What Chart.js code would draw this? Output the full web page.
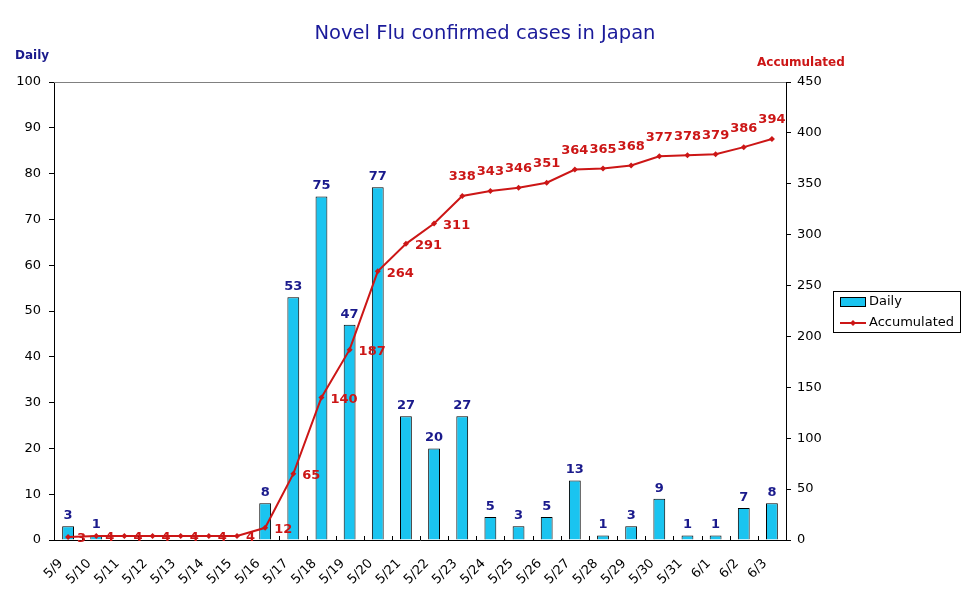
<!DOCTYPE html>
<html>
<head>
<meta charset="utf-8">
<script src="https://cdn.jsdelivr.net/npm/chart.js@4/dist/chart.umd.min.js"></script>
<style>
html,body{margin:0;padding:0;background:#fff;}
#wrap{position:relative;width:970px;height:604px;}
</style>
</head>
<body>
<div id="wrap"><canvas id="c" width="970" height="604"></canvas></div>
<script>
const categories = ["5/9","5/10","5/11","5/12","5/13","5/14","5/15","5/16","5/17","5/18","5/19","5/20","5/21","5/22","5/23","5/24","5/25","5/26","5/27","5/28","5/29","5/30","5/31","6/1","6/2","6/3"];
const daily = [3,1,0,0,0,0,0,8,53,75,47,77,27,20,27,5,3,5,13,1,3,9,1,1,7,8];
const accumulated = [3,4,4,4,4,4,4,12,65,140,187,264,291,311,338,343,346,351,364,365,368,377,378,379,386,394];
const dailyMax = 100, dailyStep = 10;
const accMax = 450, accStep = 50;
const titleText = "Novel Flu confirmed cases in Japan";
const leftAxisTitle = "Daily";
const rightAxisTitle = "Accumulated";
const seriesNames = ["Daily","Accumulated"];

const BAR = '#1AC4F0', LINE = '#CC1616', NAVY = '#1A1A8C', FONT = '"DejaVu Sans", Verdana, sans-serif';

const deco = {
  id: 'deco',
  afterDraw(chart) {
    const ctx = chart.ctx, a = chart.chartArea;
    ctx.save();
    ctx.strokeStyle = '#808080'; ctx.lineWidth = 1;
    ctx.beginPath(); ctx.moveTo(a.left, a.top + 0.5); ctx.lineTo(a.right, a.top + 0.5); ctx.stroke();
    const n = categories.length, w = (a.right - a.left) / n;
    ctx.strokeStyle = '#000';
    ctx.beginPath();
    for (let i = 1; i < n; i++) {
      const x = Math.round(a.left + i * w) + 0.5;
      ctx.moveTo(x, a.bottom); ctx.lineTo(x, a.bottom - 4);
    }
    ctx.stroke();
    ctx.fillStyle = '#1A1A9A'; ctx.font = '19.5px ' + FONT; ctx.textAlign = 'center'; ctx.textBaseline = 'middle';
    ctx.fillText(titleText, 485, 34);
    ctx.font = 'bold 12px ' + FONT;
    ctx.fillStyle = NAVY; ctx.textAlign = 'left';
    ctx.fillText(leftAxisTitle, 15, 56);
    ctx.fillStyle = LINE;
    ctx.fillText(rightAxisTitle, 757, 63);
    const mb = chart.getDatasetMeta(0), ml = chart.getDatasetMeta(1);
    ctx.font = 'bold 13px ' + FONT;
    ctx.fillStyle = NAVY; ctx.textAlign = 'center'; ctx.textBaseline = 'bottom';
    daily.forEach((v, i) => {
      if (v === 0) return;
      const b = mb.data[i];
      ctx.fillText(String(v), b.x, b.y - 4);
    });
    ctx.fillStyle = LINE;
    accumulated.forEach((v, i) => {
      const p = ml.data[i];
      ctx.textBaseline = 'middle';
      if (i <= 13) {
        ctx.textAlign = 'left';
        ctx.fillText(String(v), p.x + 9, p.y + 2);
      } else {
        ctx.textAlign = 'center';
        ctx.fillText(String(v), p.x, p.y - 19);
      }
    });
    ctx.strokeStyle = '#000'; ctx.lineWidth = 1;
    ctx.strokeRect(833.5, 291.5, 127, 41);
    ctx.fillStyle = BAR; ctx.fillRect(840, 297, 25, 9);
    ctx.strokeRect(840.5, 297.5, 25, 9);
    ctx.strokeStyle = LINE; ctx.lineWidth = 2;
    ctx.beginPath(); ctx.moveTo(840, 323); ctx.lineTo(866, 323); ctx.stroke();
    ctx.fillStyle = LINE;
    ctx.beginPath(); ctx.moveTo(853, 320); ctx.lineTo(856, 323); ctx.lineTo(853, 326); ctx.lineTo(850, 323); ctx.closePath(); ctx.fill();
    ctx.fillStyle = '#000'; ctx.font = '13px ' + FONT; ctx.textAlign = 'left'; ctx.textBaseline = 'middle';
    ctx.fillText(seriesNames[0], 869, 302);
    ctx.fillText(seriesNames[1], 869, 323);
    ctx.restore();
  }
};

new Chart(document.getElementById('c'), {
  data: {
    labels: categories,
    datasets: [
      { type: 'bar', label: seriesNames[0], data: daily, yAxisID: 'y', backgroundColor: BAR, borderColor: '#000', borderWidth: 1, barPercentage: 0.42, categoryPercentage: 1, order: 2 },
      { type: 'line', label: seriesNames[1], data: accumulated, yAxisID: 'y1', borderColor: LINE, backgroundColor: LINE, borderWidth: 2, tension: 0, pointStyle: 'rectRot', pointRadius: 3, pointBorderWidth: 0, order: 1 }
    ]
  },
  options: {
    responsive: false, animation: false, devicePixelRatio: 1,
    layout: { padding: { top: 82, left: 0, right: 0, bottom: 0 } },
    plugins: { legend: { display: false }, title: { display: false }, tooltip: { enabled: false } },
    scales: {
      x: {
        offset: true,
        grid: { display: false, drawTicks: false },
        border: { color: '#000', width: 1 },
        ticks: { color: '#000', font: { family: FONT, size: 13 }, maxRotation: 45, minRotation: 45, autoSkip: false, padding: 16, labelOffset: -7 },
        afterFit(s) { s.height = 64; }
      },
      y: {
        position: 'left', min: 0, max: dailyMax,
        ticks: { stepSize: dailyStep, color: '#000', font: { family: FONT, size: 13 }, padding: 8 },
        grid: { drawOnChartArea: false, color: '#000', tickLength: 5 },
        border: { color: '#000', width: 1 },
        afterFit(s) { s.width = 54; }
      },
      y1: {
        position: 'right', min: 0, max: accMax,
        ticks: { stepSize: accStep, color: '#000', font: { family: FONT, size: 13 }, padding: 6 },
        grid: { drawOnChartArea: false, color: '#000', tickLength: 5 },
        border: { color: '#000', width: 1 },
        afterFit(s) { s.width = 184; }
      }
    }
  },
  plugins: [deco]
});
</script>
</body>
</html>
